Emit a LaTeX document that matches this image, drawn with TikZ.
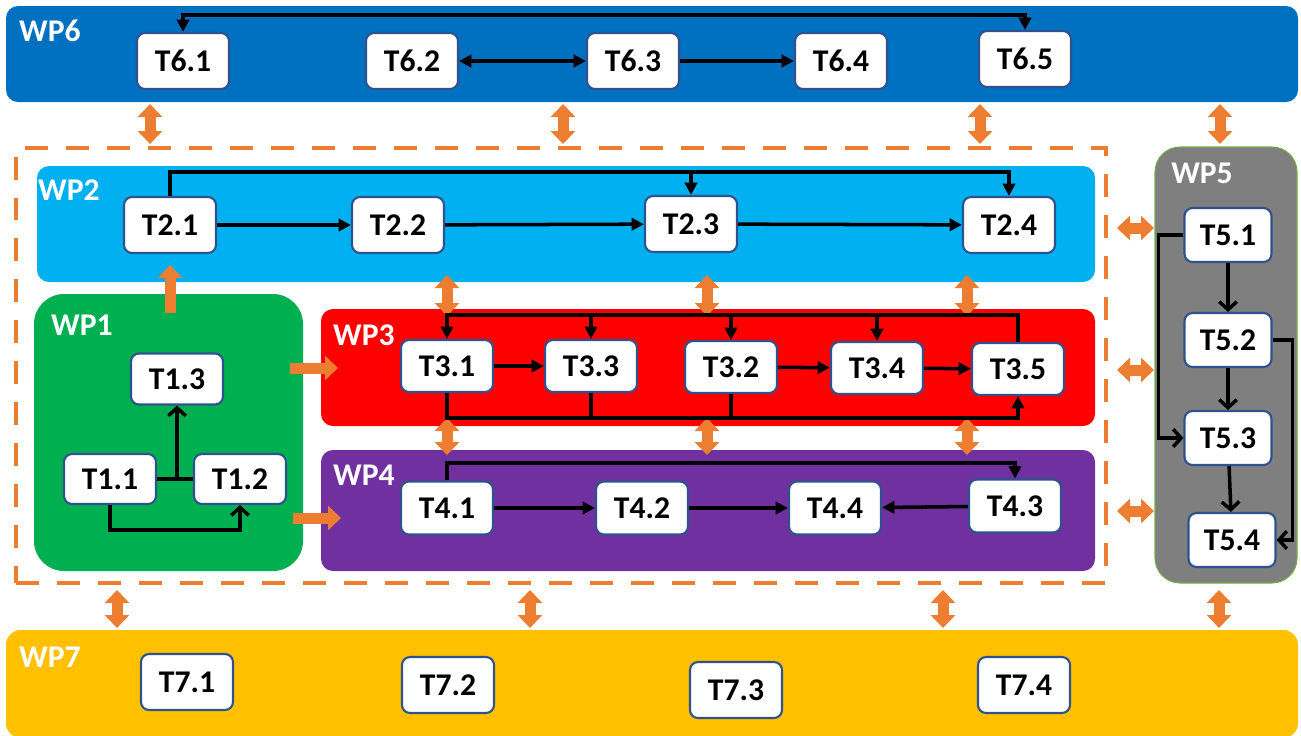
\documentclass[tikz,border=0pt]{standalone}
\usepackage{fontspec}
\setmainfont{Carlito}
\usetikzlibrary{arrows.meta, calc}

\definecolor{wpsix}{HTML}{0070C0}
\definecolor{wptwo}{HTML}{00B0F0}
\definecolor{wpone}{HTML}{00B050}
\definecolor{wpthree}{HTML}{FF0000}
\definecolor{wpfour}{HTML}{7030A0}
\definecolor{wpfive}{HTML}{7F7F7F}
\definecolor{wpfivebd}{HTML}{70AD47}
\definecolor{wpseven}{HTML}{FFC000}
\definecolor{orng}{HTML}{ED7D31}
\definecolor{boxblue}{HTML}{2F528F}
\newcommand\tasksize{\fontsize{18}{18}\selectfont}

\begin{document}
\begin{tikzpicture}[x=0.02cm, y=-0.02cm,
    band/.style={inner sep=0pt, outer sep=0pt, rounded corners=0.24cm},
    task/.style={draw=boxblue, fill=white, line width=1.2pt, rounded corners=0.16cm,
      minimum width=1.84cm, minimum height=1.12cm, inner sep=0pt, font=\tasksize\bfseries},
    wplabel/.style={text=white, font=\tasksize\bfseries, inner sep=0pt},
    link/.style={line width=2pt, >={Triangle[length=7pt,width=7pt]}},
    barbed/.style={line width=2pt, >={Straight Barb[length=4.5pt,width=10pt]}},
    fat/.style={draw=orng, line width=0.22cm},
    twoway/.style={fat, {Triangle[length=0.26cm,width=0.48cm]}-{Triangle[length=0.26cm,width=0.48cm]}},
    oneway/.style={fat, -{Triangle[length=0.26cm,width=0.48cm]}}]
  \useasboundingbox (0,0) rectangle (1301,735);

  % work packages
  \node[band, fill=wpsix, minimum width=1292*0.02cm, minimum height=96*0.02cm] (wp6) at (652,54) {};
  \node[band, fill=wptwo, minimum width=1058*0.02cm, minimum height=116*0.02cm] (wp2) at (566,224) {};
  \node[band, fill=wpone, rounded corners=0.6cm, minimum width=269*0.02cm, minimum height=277*0.02cm] (wp1) at (168.5,432.5) {};
  \node[band, fill=wpthree, minimum width=774*0.02cm, minimum height=117*0.02cm] (wp3) at (708,367.5) {};
  \node[band, fill=wpfour, minimum width=774*0.02cm, minimum height=121*0.02cm] (wp4) at (708,510.5) {};
  \node[band, fill=wpfive, draw=wpfivebd, line width=0.6pt, rounded corners=0.5cm, minimum width=142*0.02cm, minimum height=436*0.02cm] (wp5) at (1226,365) {};
  \node[band, fill=wpseven, rounded corners=0.3cm, minimum width=1292*0.02cm, minimum height=108*0.02cm] (wp7) at (652,684) {};
  \node[draw=orng, line width=0.08cm, dash pattern=on 0.46cm off 0.36cm, inner sep=0pt,
    minimum width=1090*0.02cm, minimum height=435*0.02cm] (frame) at (561,365.5) {};

  \node[wplabel] (l6) at (50,31) {WP6};
  \node[wplabel] (l2) at (69,190) {WP2};
  \node[wplabel] (l1) at (82,325) {WP1};
  \node[wplabel] (l3) at (364,335) {WP3};
  \node[wplabel] (l4) at (364,475) {WP4};
  \node[wplabel] (l5) at (1202,173) {WP5};
  \node[wplabel] (l7) at (50,657) {WP7};

  % links between work packages
  \foreach \x in {150,563,980,1220}{
    \coordinate (p) at (\x,0);
    \draw[twoway, shorten <=0.04cm, shorten >=0.04cm] (p |- wp6.south) -- (p |- frame.north);
  }
  \foreach \x in {447,707,967}{
    \coordinate (p) at (\x,0);
    \draw[twoway, shorten <=-0.14cm, shorten >=-0.14cm] (p |- wp2.south) -- (p |- wp3.north);
    \draw[twoway, shorten <=-0.16cm, shorten >=-0.1cm] (p |- wp3.south) -- (p |- wp4.north);
  }
  \foreach \y in {228,370,511}{
    \coordinate (q) at (0,\y);
    \draw[twoway, shorten <=0.18cm, shorten >=0.02cm] (frame.east |- q) -- (wp5.west |- q);
  }
  \foreach \x in {117,530,943,1219}{
    \coordinate (p) at (\x,0);
    \draw[twoway, shorten <=0.1cm, shorten >=0.04cm] (p |- frame.south) -- (p |- wp7.north);
  }
  \coordinate (p) at (170,0);
  \draw[oneway, shorten <=-0.38cm, shorten >=-0.34cm] (p |- wp1.north) -- (p |- wp2.south);
  \coordinate (q) at (0,368);
  \draw[oneway, shorten <=-0.26cm, shorten >=-0.34cm] (wp1.east |- q) -- (wp3.west |- q);
  \coordinate (q) at (0,518);
  \draw[oneway, shorten <=-0.2cm, shorten >=-0.4cm] (wp1.east |- q) -- (wp4.west |- q);

  % tasks
  \node[task] (t61) at (183,61) {T6.1};
  \node[task] (t62) at (412,61) {T6.2};
  \node[task] (t63) at (633,61) {T6.3};
  \node[task] (t64) at (841,61) {T6.4};
  \node[task] (t65) at (1025,59) {T6.5};

  \node[task] (t21) at (170,225) {T2.1};
  \node[task] (t22) at (398,225) {T2.2};
  \node[task] (t23) at (691,224) {T2.3};
  \node[task] (t24) at (1009,225) {T2.4};

  \node[task, minimum height=1.02cm] (t13) at (177,379) {T1.3};
  \node[task, minimum height=1.0cm] (t11) at (110,479) {T1.1};
  \node[task, minimum height=1.0cm] (t12) at (240,479) {T1.2};

  \node[task, minimum height=1.04cm] (t31) at (447,366) {T3.1};
  \node[task, minimum height=1.04cm] (t33) at (591,366) {T3.3};
  \node[task, minimum height=1.04cm] (t32) at (731,367) {T3.2};
  \node[task, minimum height=1.04cm] (t34) at (877,368) {T3.4};
  \node[task, minimum height=1.04cm] (t35) at (1018,369) {T3.5};

  \node[task, minimum height=1.06cm] (t41) at (447,508) {T4.1};
  \node[task, minimum height=1.06cm] (t42) at (642,508) {T4.2};
  \node[task, minimum height=1.06cm] (t44) at (835,508) {T4.4};
  \node[task, minimum height=1.06cm] (t43) at (1015,506) {T4.3};

  \node[task, minimum width=1.74cm, minimum height=1.08cm] (t51) at (1228,235) {T5.1};
  \node[task, minimum width=1.74cm, minimum height=1.08cm] (t52) at (1228,340) {T5.2};
  \node[task, minimum width=1.74cm, minimum height=1.08cm] (t53) at (1228,438) {T5.3};
  \node[task, minimum width=1.74cm, minimum height=1.08cm] (t54) at (1232,540) {T5.4};

  \node[task] (t71) at (187,682) {T7.1};
  \node[task] (t72) at (448,685) {T7.2};
  \node[task] (t73) at (736,690) {T7.3};
  \node[task] (t74) at (1024,685) {T7.4};

  % WP6
  \coordinate (top6) at (600,15);
  \draw[link, <->] (t61.north) |- (top6) -| (t65.north);
  \draw[link, <->] (t62) -- (t63);
  \draw[link, ->] (t63) -- (t64);

  % WP2
  \coordinate (top2) at (600,172);
  \draw[link, ->] (t21.north) |- (top2) -| (t24.north);
  \draw[link, ->] (t23.north |- top2) -- (t23.north);
  \draw[link, ->] (t21) -- (t22);
  \draw[link, ->] (t22) -- (t23);
  \draw[link, ->] (t23) -- (t24);

  % WP1
  \draw[link] (t11) -- (t12);
  \draw[barbed, ->] (t13.south |- t11.east) -- (t13.south);
  \draw[barbed, ->] (t11.south) -- ++(0,25) -| (t12.south);

  % WP3
  \coordinate (top3) at (700,315);
  \coordinate (bot3) at (700,418);
  \draw[link, ->] (t35.north) |- (top3) -| (t31.north);
  \foreach \n in {t33,t32,t34}
    \draw[link, ->] (\n.north |- top3) -- (\n.north);
  \draw[link, ->] (t31.south) |- (bot3) -| (t35.south);
  \foreach \n in {t33,t32}
    \draw[link] (\n.south) -- (\n.south |- bot3);
  \draw[link, ->] (t31) -- (t33);
  \draw[link, ->] (t32) -- (t34);
  \draw[link, ->] (t34) -- (t35);

  % WP4
  \coordinate (top4) at (700,463);
  \draw[link, ->] (t41.north) |- (top4) -| (t43.north);
  \draw[link, ->] (t41) -- (t42);
  \draw[link, ->] (t42) -- (t44);
  \draw[link, ->] (t43) -- (t44);

  % WP5
  \draw[barbed, ->] (t51) -- (t52);
  \draw[barbed, ->] (t52) -- (t53);
  \draw[barbed, ->] (t53) -- (t54);
  \draw[barbed, ->] (t51.west) -- ++(-25,0) |- (t53.west);
  \draw[barbed, ->] (t52.east) -- ++(20,0) |- (t54.east);
\end{tikzpicture}
\end{document}
